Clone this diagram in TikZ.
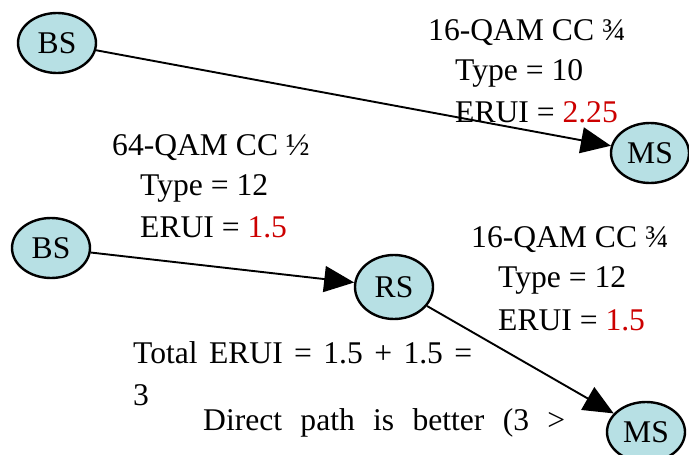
\documentclass[tikz,border=0pt]{standalone}
\usepackage{fontspec}
\setmainfont{Liberation Serif}
\usepackage{tikz}
\usetikzlibrary{shapes.geometric,arrows.meta}

\definecolor{stationfill}{HTML}{B7E0E4}
\definecolor{eruired}{HTML}{CC0000}

\tikzset{
    station/.style={ellipse, draw, line width=2.4pt, fill=stationfill,
        minimum width=78pt, minimum height=60pt, inner sep=0pt},
    link/.style={line width=1.9pt, -{Triangle[length=30pt,width=26pt]}},
    info/.style={anchor=base west, inner sep=0pt}
}

\begin{document}
\begin{tikzpicture}[x=1pt, y=-1pt, font=\fontsize{31.6}{41}\selectfont]
    \useasboundingbox (0,0) rectangle (689,455);

    % Direct path - BS to MS
    \node[station] (bs1) at (57,43) {BS};
    \node[station] (ms1) at (650,153) {MS};
    \draw[link] (bs1) -- (ms1);
    \node[info] (d1) at (428,40) {16-QAM CC ¾};
    \node[info] (d2) at (455,80) {Type = 10};
    \node[info] (d3) at (455,122) {ERUI = \textcolor{eruired}{2.25}};

    % Relay path - BS to RS to MS
    \node[station] (bs2) at (51,248) {BS};
    \node[station, minimum height=64pt] (rs) at (394,287) {RS};
    \node[station] (ms2) at (646,432) {MS};
    \draw[link] (bs2) -- (rs);
    \draw[link] (rs) -- (ms2);

    % First hop
    \node[info] (h1a) at (112,155) {64-QAM CC ½};
    \node[info] (h1b) at (140,195) {Type = 12};
    \node[info] (h1c) at (140,237) {ERUI = \textcolor{eruired}{1.5}};

    % Second hop
    \node[info] (h2a) at (471,247) {16-QAM CC ¾};
    \node[info] (h2b) at (498,287) {Type = 12};
    \node[info] (h2c) at (498,330) {ERUI = \textcolor{eruired}{1.5}};

    % Totals
    \node[info] (tot1) at (133,363) {\makebox[339pt][s]{Total ERUI = 1.5 + 1.5 =}};
    \node[info] (tot2) at (133,405) {3};
    \node[info] (verdict) at (203,430) {\makebox[362pt][s]{Direct path is better (3 >}};
\end{tikzpicture}
\end{document}
